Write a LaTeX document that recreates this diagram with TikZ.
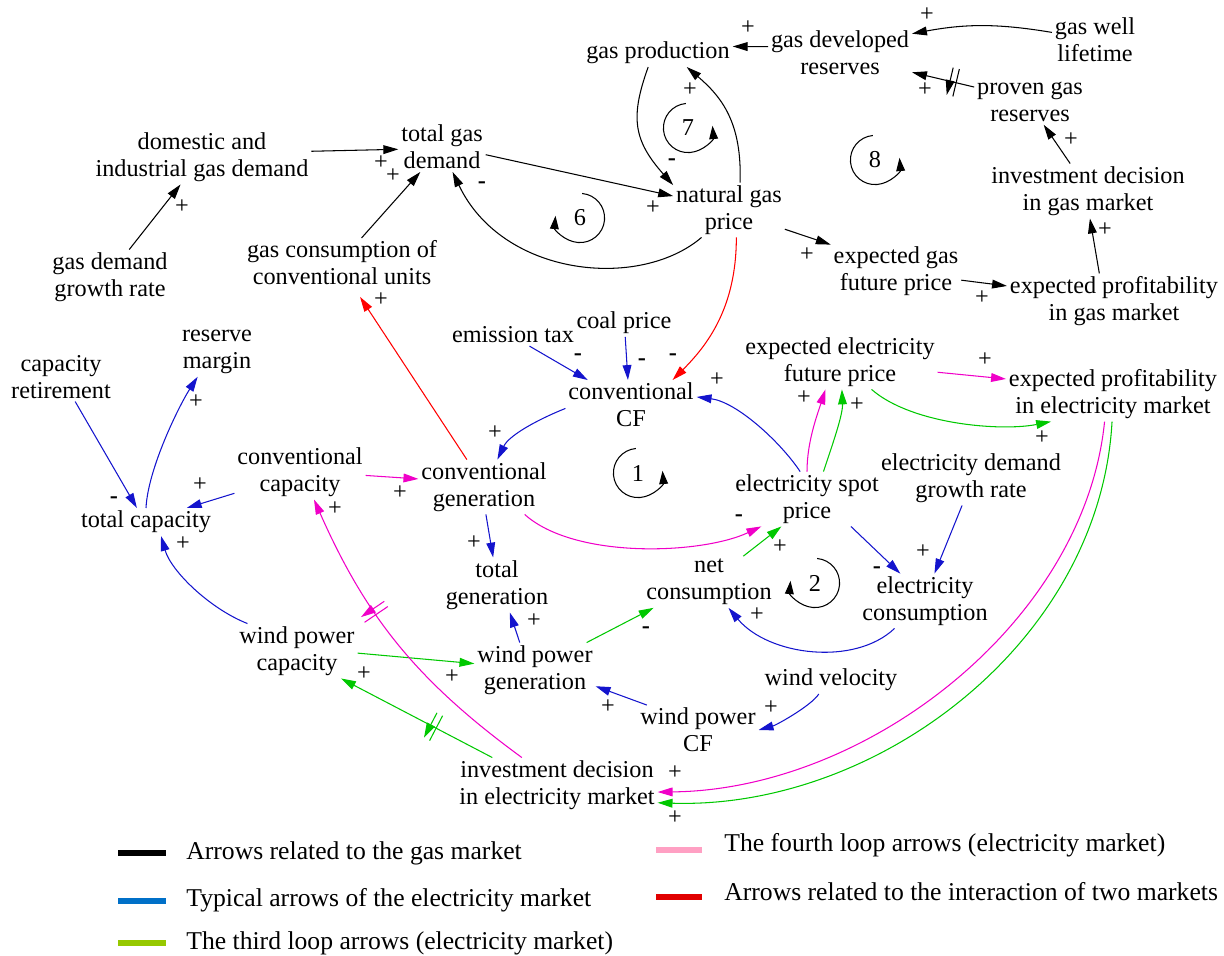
\documentclass[tikz,border=0pt]{standalone}
\usepackage{fontspec}
\setmainfont{Liberation Serif}
\usetikzlibrary{arrows.meta,decorations.markings}
\definecolor{eblue}{RGB}{20,20,205}
\definecolor{egreen}{RGB}{0,200,0}
\definecolor{emag}{RGB}{240,0,200}
\definecolor{ered}{RGB}{255,0,0}
\definecolor{lgblue}{RGB}{0,112,200}
\definecolor{lggreen}{RGB}{150,200,0}
\definecolor{lgpink}{RGB}{255,160,195}
\definecolor{lgred}{RGB}{225,0,0}
\begin{document}
\begin{tikzpicture}[x=0.02cm,y=-0.02cm,
  var/.style={align=center,inner sep=1.5pt,font=\fontsize{13.8}{15.3}\selectfont},
  sgn/.style={inner sep=0pt,font=\fontsize{13.8}{15}\selectfont},
  leg/.style={inner sep=0pt,anchor=west,font=\fontsize{14.6}{16}\selectfont},
  lnk/.style={line width=0.6pt,-{Triangle[length=8.5pt,width=5pt]}},
  gas/.style={lnk,color=black},
  bl/.style={lnk,color=eblue},
  gr/.style={lnk,color=egreen},
  mg/.style={lnk,color=emag},
  rd/.style={lnk,color=ered},
  loopar/.style={line width=0.6pt,-{Triangle[length=7.5pt,width=5pt]}},
  delay/.style={postaction={decorate,decoration={markings,mark=at position #1 with {\draw[line width=0.6pt] (-1.8pt,-8pt)--(-1.8pt,8pt) (1.8pt,-8pt)--(1.8pt,8pt);}}}},
  legline/.style={line width=3pt}
]
\useasboundingbox (0,0) rectangle (1224,956);

% ---------------- variables ----------------
\node[var] (gp)  at (658,53)  {gas production};
\node[var] (gdr) at (840,53)  {gas developed\\reserves};
\node[var] (gwl) at (1095,40) {gas well\\lifetime};
\node[var] (pgr) at (1030,102){proven gas\\reserves};
\node[var] (idg) at (1088,191){investment decision\\in gas market};
\node[var] (epg) at (1114,301){expected profitability\\in gas market};
\node[var] (egf) at (896,271) {expected gas\\future price};
\node[var] (ngp) at (729,210) {natural gas\\price};
\node[var] (tgd) at (442,147) {total gas\\demand};
\node[var] (did) at (202,157) {domestic and\\industrial gas demand};
\node[var] (gdg) at (110,277) {gas demand\\growth rate};
\node[var] (gcc) at (342,263) {gas consumption of\\conventional units};
\node[var] (rm)  at (217,352) {reserve\\margin};
\node[var] (cr)  at (61,377)  {capacity\\retirement};
\node[var] (et)  at (513,335) {emission tax};
\node[var] (cp)  at (624,323) {coal price};
\node[var] (ccf) at (631,405) {conventional\\CF};
\node[var] (eef) at (840,362) {expected electricity\\future price};
\node[var] (epe) at (1113,394){expected profitability\\in electricity market};
\node[var] (cc)  at (300,472) {conventional\\capacity};
\node[var] (cg)  at (484,487) {conventional\\generation};
\node[var] (tc)  at (146,522) {total capacity};
\node[var] (esp) at (807,499) {electricity spot\\price};
\node[var] (edg) at (971,478) {electricity demand\\growth rate};
\node[var] (ec)  at (925,601) {electricity\\consumption};
\node[var] (nc)  at (709,582) {net\\consumption};
\node[var] (tg)  at (497,585) {total\\generation};
\node[var] (wpc) at (297,651) {wind power\\capacity};
\node[var] (wpg) at (535,670) {wind power\\generation};
\node[var] (wv)  at (831,680) {wind velocity};
\node[var] (wcf) at (698,730) {wind power\\CF};
\node[var] (ide) at (557,785) {investment decision\\in electricity market};

% ---------------- gas market (black) ----------------
\draw[gas] (gdr.175) -- (gp.5);
\draw[gas] (gwl.170) to[bend right=10] (gdr.15);
\draw[gas,delay=0.34] (pgr.165) -- (gdr.-15);
\draw[gas] (idg.123) -- (pgr.-59);
\draw[gas] (epg.118) -- (idg.-86);
\draw[gas] (egf.-8) -- (epg.172);
\draw[gas] (ngp.-19) -- (egf.158);
\draw[gas] (tgd.-10) -- (ngp.166);
\draw[gas] (ngp.-135) .. controls +(-62,53) and +(50,105) .. (tgd.-67);
\draw[gas] (gp.-125) .. controls +(-18,50) and +(-40,-45) .. (ngp.156);
\draw[gas] (ngp.68) .. controls +(2,-60) and +(35,30) .. (gp.-26);
\draw[gas] (did.3) -- (tgd.183);
\draw[gas] (gcc.52) -- (tgd.-131);
\draw[gas] (gdg.55) -- (did.-128);

% ---------------- interaction (red) ----------------
\draw[rd,shorten >=6pt] (cg.122) -- (gcc.-64);
\draw[rd] (ngp.-75) .. controls +(0,70) and +(35,-35) .. (ccf.31);

% ---------------- electricity market (blue) ----------------
\draw[bl] (et.-34) -- (ccf.150);
\draw[bl] (cp.-85) -- (ccf.97);
\draw[bl] (esp.104) .. controls +(-20,-30) and +(40,5) .. (ccf.7);
\draw[bl] (ccf.183) .. controls +(-25,10) and +(12,-25) .. (cg.64);
\draw[bl] (cg.-86) -- (tg.98);
\draw[bl] (cc.198) -- (tc.19);
\draw[bl] (cr.-60) -- (tc.123);
\draw[bl] (tc.90) .. controls +(2,-40) and +(-18,28) .. (rm.-128);
\draw[bl] (wpc.151) .. controls +(-38,-15) and +(10,35) .. (tc.-43);
\draw[bl] (wpg.119) -- (tg.-65);
\draw[bl] (wcf.154) -- (wpg.-15);
\draw[bl] (wv.-131) .. controls +(-8,12) and +(18,-5) .. (wcf.0);
\draw[bl] (esp.-32) -- (ec.132);
\draw[bl] (edg.-108) -- (ec.71);
\draw[bl] (ec.-138) .. controls +(-40,38) and +(40,48) .. (nc.-53);

% ---------------- third loop (green) ----------------
\draw[gr] (nc.37) -- (esp.-133);
\draw[gr] (wpg.28) -- (nc.-155);
\draw[gr] (wpc.-2) -- (wpg.174);
\draw[gr] (esp.59) .. controls +(10,-30) and +(1,25) .. (eef.-86);
\draw[gr] (eef.-41) .. controls +(40,35) and +(-50,10) .. (epe.-156);
\draw[gr] (epe.-92) .. controls +(-12,220) and +(220,7) .. (ide.-10);
\draw[gr,delay=0.39] (ide.157) -- (wpc.-32);

% ---------------- fourth loop (magenta) ----------------
\draw[mg] (cc.-3) -- (cg.173);
\draw[mg] (cg.-34) .. controls +(50,45) and +(-60,28) .. (esp.-149);
\draw[mg] (esp.90) .. controls +(0,-30) and +(-8,25) .. (eef.-118);
\draw[mg] (eef.-6) -- (epe.172);
\draw[mg] (epe.-107) .. controls +(-20,200) and +(210,-2) .. (ide.-4);
\draw[mg,delay=0.62] (ide.142) to[bend left=15] (cc.-63);

% ---------------- polarity signs ----------------
\node[sgn] (s1)  at (748,28)  {+};
\node[sgn] (s2)  at (927,15)  {+};
\node[sgn] (s3)  at (925,90)  {+};
\node[sgn] (s4)  at (1071,140){+};
\node[sgn] (s5)  at (1105,230){+};
\node[sgn] (s6)  at (982,298) {+};
\node[sgn] (s7)  at (807,255) {+};
\node[sgn] (s8)  at (653,208) {+};
\node[sgn] (s9)  at (482,185) {\textbf{-}};
\node[sgn] (s10) at (672,162) {\textbf{-}};
\node[sgn] (s11) at (690,90)  {+};
\node[sgn] (s12) at (381,163) {+};
\node[sgn] (s13) at (393,176) {+};
\node[sgn] (s14) at (182,207) {+};
\node[sgn] (s15) at (381,300) {+};
\node[sgn] (s16) at (673,357) {\textbf{-}};
\node[sgn] (s17) at (578,357) {\textbf{-}};
\node[sgn] (s18) at (642,362) {\textbf{-}};
\node[sgn] (s19) at (717,380) {+};
\node[sgn] (s20) at (495,433) {+};
\node[sgn] (s21) at (474,543) {+};
\node[sgn] (s22) at (200,485) {+};
\node[sgn] (s23) at (114,500) {\textbf{-}};
\node[sgn] (s24) at (196,402) {+};
\node[sgn] (s25) at (183,544) {+};
\node[sgn] (s26) at (335,509) {+};
\node[sgn] (s27) at (400,493) {+};
\node[sgn] (s28) at (534,621) {+};
\node[sgn] (s29) at (608,707) {+};
\node[sgn] (s30) at (771,708) {+};
\node[sgn] (s31) at (877,570) {\textbf{-}};
\node[sgn] (s32) at (923,552) {+};
\node[sgn] (s33) at (757,615) {+};
\node[sgn] (s34) at (780,547) {+};
\node[sgn] (s35) at (646,630) {\textbf{-}};
\node[sgn] (s36) at (739,518) {\textbf{-}};
\node[sgn] (s37) at (452,677) {+};
\node[sgn] (s38) at (364,674) {+};
\node[sgn] (s39) at (804,398) {+};
\node[sgn] (s40) at (857,405) {+};
\node[sgn] (s41) at (985,360) {+};
\node[sgn] (s42) at (1042,438){+};
\node[sgn] (s43) at (675,773) {+};
\node[sgn] (s44) at (675,818) {+};

% ---------------- loop markers ----------------
\node[var] (L7) at (688,128) {7};
\draw[loopar] (L7) ++(95:14pt) arc[start angle=95,end angle=365,radius=14pt];
\node[var] (L8) at (875,160) {8};
\draw[loopar] (L8) ++(95:14pt) arc[start angle=95,end angle=365,radius=14pt];
\node[var] (L1) at (638,473) {1};
\draw[loopar] (L1) ++(95:14pt) arc[start angle=95,end angle=365,radius=14pt];
\node[var] (L6) at (580,218) {6};
\draw[loopar] (L6) ++(85:14pt) arc[start angle=85,end angle=-185,radius=14pt];
\node[var] (L2) at (815,583) {2};
\draw[loopar] (L2) ++(85:14pt) arc[start angle=85,end angle=-185,radius=14pt];

% ---------------- legend ----------------
\draw[legline,black]   (118,853) -- (166,853);
\draw[legline,lgblue]  (118,901) -- (166,901);
\draw[legline,lggreen] (118,943) -- (166,943);
\draw[legline,lgpink]  (656,850) -- (702,850);
\draw[legline,lgred]   (656,897) -- (702,897);
\node[leg] (g1) at (186,853) {Arrows related to the gas market};
\node[leg] (g2) at (186,900) {Typical arrows of the electricity market};
\node[leg] (g3) at (186,943) {The third loop arrows (electricity market)};
\node[leg] (g4) at (724,845) {The fourth loop arrows (electricity market)};
\node[leg] (g5) at (724,892) {Arrows related to the interaction of two markets};
\end{tikzpicture}
\end{document}
